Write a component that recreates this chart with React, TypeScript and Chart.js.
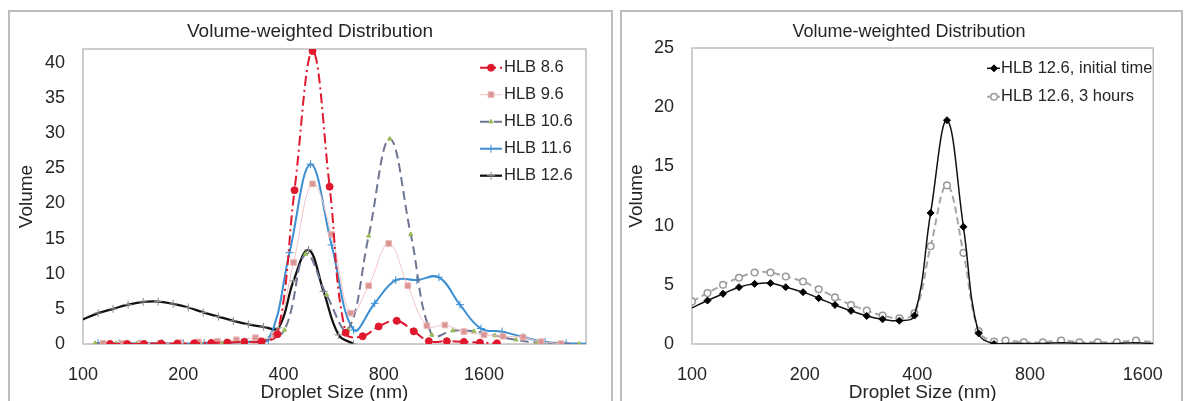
import React, { useEffect, useRef } from 'react';
import { Chart, registerables } from 'chart.js';
import { drawPoint } from 'chart.js/helpers';

Chart.register(...registerables);

const FONT = '"Liberation Sans", Arial, Helvetica, sans-serif';
const TEXT = '#262626';

// ---------- shared text ----------
const chartTitle = 'Volume-weighted Distribution';
const xAxisTitle = 'Droplet Size (nm)';
const yAxisTitle = 'Volume';
const xTickValues = [100, 200, 400, 800, 1600];
const yTicksLeft = [0, 5, 10, 15, 20, 25, 30, 35, 40];
const yTicksRight = [0, 5, 10, 15, 20, 25];

// ---------- left panel ----------
const leftLabels = ['HLB 8.6', 'HLB 9.6', 'HLB 10.6', 'HLB 11.6', 'HLB 12.6'];

const hlb86Size = [120.6, 135.7, 152.6, 171.7, 191.8, 215.8, 242.8, 271.4, 305.2, 343.5, 383.7, 431.7, 489, 550.3, 614.7, 691.6, 772.7, 875.4, 984.9, 1092.8, 1237.9, 1392.9, 1556.2, 1750.5];
const hlb86Vol = [0, 0, 0, 0.05, 0.05, 0.1, 0.15, 0.2, 0.3, 0.35, 1.4, 21.9, 41.7, 22.4, 1.6, 1.1, 2.5, 3.3, 1.8, 0.4, 0.4, 0.3, 0.2, 0.1];

const hlb96Size = [114.9, 131, 149.5, 170.5, 194.5, 221.9, 253.2, 288.8, 329.4, 375.8, 428.7, 489.1, 557.9, 636.4, 721, 828.2, 944.8, 1077.8, 1221, 1392.9, 1600, 1825, 2097, 2375, 2728];
const hlb96Vol = [0.1, 0.1, 0.1, 0.1, 0.2, 0.3, 0.4, 0.6, 0.9, 1.3, 11.6, 22.8, 15.6, 4.4, 8.3, 14.3, 8.3, 2.6, 2.7, 1.76, 1.3, 1.1, 0.96, 0.33, 0.05];

const hlb106Size = [108.7, 125.7, 145.4, 168.2, 194.5, 225, 260.3, 301.1, 348.2, 402.8, 465.9, 538.9, 623.3, 721, 834, 964.6, 1115.7, 1290.6, 1492.9, 1726.8, 1997, 2310, 2672, 3091];
const hlb106Vol = [0.1, 0.1, 0.1, 0.1, 0.1, 0.15, 0.2, 0.3, 0.5, 2.0, 12.8, 7.0, 2.0, 15.4, 29.2, 15.6, 1.3, 1.9, 1.8, 1.2, 0.6, 0.2, 0.05, 0];

const hlb116Size = [111, 128.3, 148.5, 172.9, 200, 231.3, 267.6, 309.5, 360.5, 417, 482.3, 557.9, 649.8, 751.6, 869.4, 1005.6, 1171.3, 1354.8, 1567, 1813, 2097, 2442, 2825, 3267];
const hlb116Vol = [0.1, 0.1, 0.1, 0.1, 0.1, 0.15, 0.2, 0.3, 0.6, 13.0, 25.6, 14.1, 2.0, 5.8, 9.1, 9.1, 9.5, 5.6, 2.2, 1.76, 1.0, 0.3, 0.1, 0.05];

const hlb126Size = [100, 111, 123.1, 136.6, 151.6, 168.2, 186.6, 207.1, 229.7, 254.9, 282.8, 313.8, 348.2, 386.4, 428.7, 475.7, 527.8, 585.6, 649.8];
const hlb126Vol = [3.5, 4.4, 5.0, 5.6, 6.0, 6.05, 5.7, 5.2, 4.5, 3.9, 3.3, 2.8, 2.45, 2.3, 9.0, 13.4, 7.5, 1.3, 0];

// ---------- right panel ----------
const rightLabels = ['HLB 12.6, initial time', 'HLB 12.6, 3 hours'];
const rightSize = [100, 110, 121, 133.5, 147, 162, 178, 198, 218, 241, 266, 293, 323, 358, 393, 434, 480, 531, 583, 641, 688, 770, 866, 969, 1084, 1213, 1365, 1535, 1707];
const initialVol = [3.05, 3.67, 4.24, 4.8, 5.08, 5.14, 4.8, 4.38, 3.87, 3.3, 2.8, 2.37, 2.09, 1.97, 2.4, 11.07, 18.9, 9.9, 0.9, 0, 0.05, 0.05, 0.05, 0.1, 0.05, 0.05, 0.05, 0.1, 0.05];
const hoursVol = [3.6, 4.3, 5.0, 5.6, 6.04, 6.04, 5.7, 5.28, 4.63, 3.95, 3.3, 2.82, 2.4, 2.18, 2.6, 8.25, 13.4, 7.7, 1.1, 0.2, 0.3, 0.15, 0.15, 0.3, 0.15, 0.15, 0.15, 0.3, 0.15];

const pts = (xs: number[], ys: number[]) => xs.map((x, i) => ({ x, y: ys[i] }));

type PanelCfg = {
  title: { x: number; y: number; size: number };
  legend: { y0: number; dy: number; lx0: number; lx1: number; mx: number; tx: number; size: number; radius: number[] };
};

function decorPlugin(cfg: PanelCfg) {
  return {
    id: 'decor',
    beforeDatasetsDraw(chart: any) {
      const { ctx, chartArea } = chart;
      ctx.save();
      ctx.strokeStyle = '#bdbdbd';
      ctx.lineWidth = 1.5;
      ctx.strokeRect(chartArea.left, chartArea.top, chartArea.right - chartArea.left, chartArea.bottom - chartArea.top);
      ctx.restore();
    },
    afterDraw(chart: any) {
      const { ctx } = chart;
      ctx.save();
      ctx.fillStyle = TEXT;
      ctx.font = `${cfg.title.size}px ${FONT}`;
      ctx.textAlign = 'center';
      ctx.textBaseline = 'middle';
      ctx.fillText(chartTitle, cfg.title.x, cfg.title.y);
      const L = cfg.legend;
      chart.data.datasets.forEach((ds: any, i: number) => {
        const y = L.y0 + i * L.dy;
        ctx.save();
        ctx.strokeStyle = ds.borderColor;
        ctx.lineWidth = ds.borderWidth;
        ctx.setLineDash(ds.borderDash || []);
        ctx.beginPath();
        ctx.moveTo(L.lx0, y);
        ctx.lineTo(L.lx1, y);
        ctx.stroke();
        ctx.setLineDash([]);
        ctx.fillStyle = ds.pointBackgroundColor;
        ctx.strokeStyle = ds.pointBorderColor;
        ctx.lineWidth = ds.pointBorderWidth;
        drawPoint(ctx, { pointStyle: ds.pointStyle, radius: L.radius[i], borderWidth: ds.pointBorderWidth, rotation: 0 } as any, L.mx, y);
        ctx.restore();
        ctx.fillStyle = TEXT;
        ctx.font = `${L.size}px ${FONT}`;
        ctx.textAlign = 'left';
        ctx.textBaseline = 'middle';
        ctx.fillText(ds.label, L.tx, y);
      });
      ctx.restore();
    },
  };
}

function scales(xMax: number, yMax: number, yTicks: number[], yWidth: number, yTitlePad: number) {
  return {
    x: {
      type: 'logarithmic',
      min: 100,
      max: xMax,
      afterBuildTicks: (s: any) => { s.ticks = xTickValues.map((v) => ({ value: v })); },
      afterFit: (s: any) => { s.height = 66; },
      grid: { display: false, drawTicks: false },
      border: { display: false },
      ticks: { padding: 20, autoSkip: false, maxRotation: 0, color: TEXT, font: { family: FONT, size: 18 }, callback: (v: any) => String(v) },
      title: { display: true, text: xAxisTitle, color: TEXT, font: { family: FONT, size: 19 }, padding: { top: 0, bottom: 6 } },
    },
    y: {
      type: 'linear',
      min: 0,
      max: yMax,
      afterBuildTicks: (s: any) => { s.ticks = yTicks.map((v) => ({ value: v })); },
      afterFit: (s: any) => { s.width = yWidth; },
      grid: { display: false, drawTicks: false },
      border: { display: false },
      ticks: { padding: 18, color: TEXT, font: { family: FONT, size: 18 } },
      title: { display: true, text: yAxisTitle, color: TEXT, font: { family: FONT, size: 19 }, padding: { top: yTitlePad, bottom: 0 } },
    },
  };
}

export default function App() {
  const leftRef = useRef<HTMLCanvasElement>(null);
  const rightRef = useRef<HTMLCanvasElement>(null);

  useEffect(() => {
    const left = new Chart(leftRef.current as HTMLCanvasElement, {
      type: 'line',
      data: {
        datasets: [
          {
            label: leftLabels[0], data: pts(hlb86Size, hlb86Vol),
            borderColor: '#e0182d', borderWidth: 2, borderDash: [10, 4, 2, 4],
            pointStyle: 'circle', pointRadius: 3.5, pointBackgroundColor: '#e0182d', pointBorderColor: '#e0182d', pointBorderWidth: 1,
          },
          {
            label: leftLabels[1], data: pts(hlb96Size, hlb96Vol),
            borderColor: '#f3c3c3', borderWidth: 1, borderDash: [],
            pointStyle: 'rect', pointRadius: 4, pointBackgroundColor: '#d99594', pointBorderColor: '#ebb7b6', pointBorderWidth: 1,
          },
          {
            label: leftLabels[2], data: pts(hlb106Size, hlb106Vol),
            borderColor: '#6f7592', borderWidth: 2, borderDash: [9, 5],
            pointStyle: 'triangle', pointRadius: 2.5, pointBackgroundColor: '#9bbb59', pointBorderColor: '#9bbb59', pointBorderWidth: 1,
          },
          {
            label: leftLabels[3], data: pts(hlb116Size, hlb116Vol),
            borderColor: '#3d8fd1', borderWidth: 2, borderDash: [],
            pointStyle: 'cross', pointRadius: 4, pointBackgroundColor: '#3d8fd1', pointBorderColor: '#3d8fd1', pointBorderWidth: 1,
          },
          {
            label: leftLabels[4], data: pts(hlb126Size, hlb126Vol),
            borderColor: '#111111', borderWidth: 2.25, borderDash: [],
            pointStyle: 'cross', pointRadius: (c: any) => (c.raw && c.raw.x <= 100 ? 0 : 4),
            pointBackgroundColor: '#8c8c8c', pointBorderColor: '#8c8c8c', pointBorderWidth: 1,
          },
        ] as any,
      },
      options: {
        responsive: false,
        animation: false,
        devicePixelRatio: 1,
        layout: { padding: { left: 0, top: 39, right: 27, bottom: 0 } },
        elements: { line: { tension: 0.4 } },
        plugins: { legend: { display: false }, title: { display: false }, tooltip: { enabled: false } },
        scales: scales(3240, 42, yTicksLeft, 75, 7) as any,
      },
      plugins: [decorPlugin({
        title: { x: 302, y: 22, size: 19 },
        legend: { y0: 57.7, dy: 27, lx0: 472, lx1: 494, mx: 483, tx: 496, size: 16.5, radius: [3.5, 4, 2.5, 4, 4] },
      })],
    });

    const right = new Chart(rightRef.current as HTMLCanvasElement, {
      type: 'line',
      data: {
        datasets: [
          {
            label: rightLabels[0], data: pts(rightSize, initialVol),
            borderColor: '#111111', borderWidth: 1.5, borderDash: [],
            pointStyle: 'rectRot', pointRadius: (c: any) => (c.raw && (c.raw.x <= 100 || c.raw.x > 650) ? 0 : 3.5),
            pointBackgroundColor: '#000000', pointBorderColor: '#000000', pointBorderWidth: 1,
          },
          {
            label: rightLabels[1], data: pts(rightSize, hoursVol),
            borderColor: '#a6a6a6', borderWidth: 2, borderDash: [7, 4],
            pointStyle: 'circle', pointRadius: (c: any) => (c.raw && c.raw.x > 1700 ? 0 : 3.3),
            pointBackgroundColor: '#ffffff', pointBorderColor: '#9a9a9a', pointBorderWidth: 1.5,
          },
        ] as any,
      },
      options: {
        responsive: false,
        animation: false,
        devicePixelRatio: 1,
        layout: { padding: { left: 0, top: 38, right: 11, bottom: 0 } },
        elements: { line: { tension: 0.4 } },
        plugins: { legend: { display: false }, title: { display: false }, tooltip: { enabled: false } },
        scales: scales(1707, 25, yTicksRight, 72, 5) as any,
      },
      plugins: [decorPlugin({
        title: { x: 289, y: 22, size: 18 },
        legend: { y0: 58.3, dy: 28.4, lx0: 367, lx1: 380, mx: 374, tx: 381, size: 16.5, radius: [3.5, 3.3] },
      })],
    });

    return () => { left.destroy(); right.destroy(); };
  }, []);

  const boxBorder: React.CSSProperties = {
    position: 'absolute', left: 0, top: 0, right: 0, bottom: 0,
    border: '2px solid #bdbdbd', boxSizing: 'border-box', pointerEvents: 'none',
  };

  return (
    <div style={{ position: 'fixed', left: 0, top: 0, width: 1184, height: 401, overflow: 'hidden', background: '#ffffff' }}>
      <div style={{ position: 'absolute', left: 8, top: 10, width: 605, height: 400 }}>
        <canvas ref={leftRef} width={605} height={400} style={{ display: 'block', width: 605, height: 400 }} />
        <div style={boxBorder} />
      </div>
      <div style={{ position: 'absolute', left: 620, top: 10, width: 563, height: 400 }}>
        <canvas ref={rightRef} width={563} height={400} style={{ display: 'block', width: 563, height: 400 }} />
        <div style={boxBorder} />
      </div>
    </div>
  );
}
